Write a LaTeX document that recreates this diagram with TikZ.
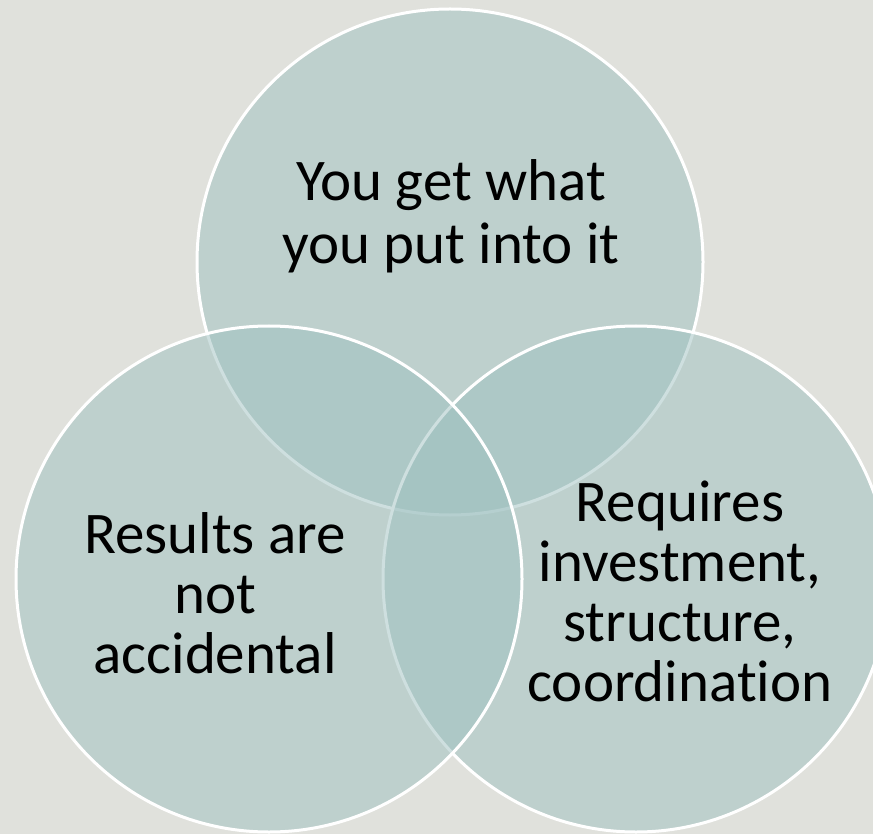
\documentclass[tikz,border=0pt]{standalone}
\usepackage{fontspec}
\setmainfont{Carlito}[Ligatures=NoCommon]
\usetikzlibrary{positioning}
\definecolor{slide}{HTML}{E0E1DC}
\definecolor{venn}{HTML}{9EC1C0}
\tikzset{
  ring/.style={circle, draw=white, line width=3pt, minimum size=506pt, inner sep=0pt, fill=venn, fill opacity=0.5},
  caption/.style={align=center, font=\fontsize{59}{60}\selectfont, text=black}
}

\begin{document}
\begin{tikzpicture}[x=1pt, y=-1pt]
  % slide background
  \fill[slide] (0,0) rectangle (873,834);
  \useasboundingbox (0,0) rectangle (873,834);
  % the three rings, left one on top
  \node[ring] (topring) at (450,262) {};
  \node[ring] (rightring) at (636,579) {};
  \node[ring] (leftring) at (269,579) {};
  % texts
  \node[caption, font=\fontsize{59}{63}\selectfont] (topcap) at (451,216) {You get what\\you put into it};
  \node[caption] (leftcap) at (215,593) {Results are\\not\\accidental};
  \node[caption] (rightcap) at (680,591) {Requires\\investment,\\structure,\\coordination};
\end{tikzpicture}
\end{document}
